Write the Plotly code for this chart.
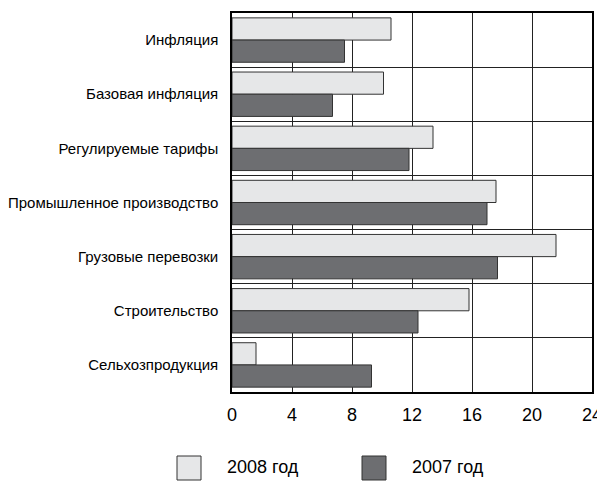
import plotly.graph_objects as go

# categories top to bottom
categories = [
    "Инфляция",
    "Базовая инфляция",
    "Регулируемые тарифы",
    "Промышленное производство",
    "Грузовые перевозки",
    "Строительство",
    "Сельхозпродукция",
]
values_2008 = [10.6, 10.1, 13.4, 17.6, 21.6, 15.8, 1.6]
values_2007 = [7.5, 6.7, 11.8, 17.0, 17.7, 12.4, 9.3]
x_ticks = [0, 4, 8, 12, 16, 20, 24]
series_names = ["2008 год", "2007 год"]

LIGHT = "#e6e7e8"
DARK = "#6d6e71"
FONT = "Liberation Sans, Arial, sans-serif"

# the page body adds an 8px offset at top-left
OFF = 8
W, H = 597, 481 - OFF
# plot area (page pixels 232..592 x 13..392)
L, T = 232 - OFF, 13 - OFF
R, B = W - (592 - OFF), H - (392 - OFF)
PW, PH = W - L - R, H - T - B

fig = go.Figure()
fig.add_trace(go.Bar(y=categories, x=values_2008, orientation="h", name=series_names[0],
                     marker=dict(color=LIGHT, line=dict(color="#333333", width=1))))
fig.add_trace(go.Bar(y=categories, x=values_2007, orientation="h", name=series_names[1],
                     marker=dict(color=DARK, line=dict(color="#333333", width=1))))

fig.update_layout(
    width=W, height=H,
    margin=dict(l=L, r=R, t=T, b=B, pad=0, autoexpand=False),
    barmode="group", bargap=0.18, bargroupgap=0,
    plot_bgcolor="white", paper_bgcolor="white",
    showlegend=False,
    font=dict(family=FONT, size=15, color="black"),
)
fig.update_xaxes(
    range=[0, 24], tickvals=x_ticks, showgrid=True, gridcolor="#222222", gridwidth=1,
    showline=True, linecolor="black", linewidth=1.5, mirror=True,
    zeroline=False, ticks="", tickfont=dict(size=18), ticklabelstandoff=6,
    ticklabeloverflow="allow", automargin=False,
)
fig.update_yaxes(
    type="category", autorange="reversed", tickson="boundaries",
    showgrid=True, gridcolor="#222222", gridwidth=1,
    showline=True, linecolor="black", linewidth=1.5, mirror=True,
    ticks="", tickfont=dict(size=15), ticklabelstandoff=9,
    automargin=False,
)

# legend drawn as boxes + labels below the chart (page pixel positions)
box_x = [177, 362]
colors = [LIGHT, DARK]
for name, col, bx in zip(series_names, colors, box_x):
    fig.add_shape(type="rect", xref="paper", yref="paper",
                  x0=(bx - OFF - L) / PW, x1=(bx + 24 - OFF - L) / PW,
                  y0=(T + PH - (480 - OFF)) / PH, y1=(T + PH - (456 - OFF)) / PH,
                  fillcolor=col, line=dict(color="#333333", width=1))
    fig.add_annotation(text=name, xref="paper", yref="paper",
                       x=(bx + 48 - OFF - L) / PW, y=(T + PH - (467 - OFF)) / PH,
                       xanchor="left", yanchor="middle", showarrow=False,
                       font=dict(size=18))

fig.write_html("out.html")
